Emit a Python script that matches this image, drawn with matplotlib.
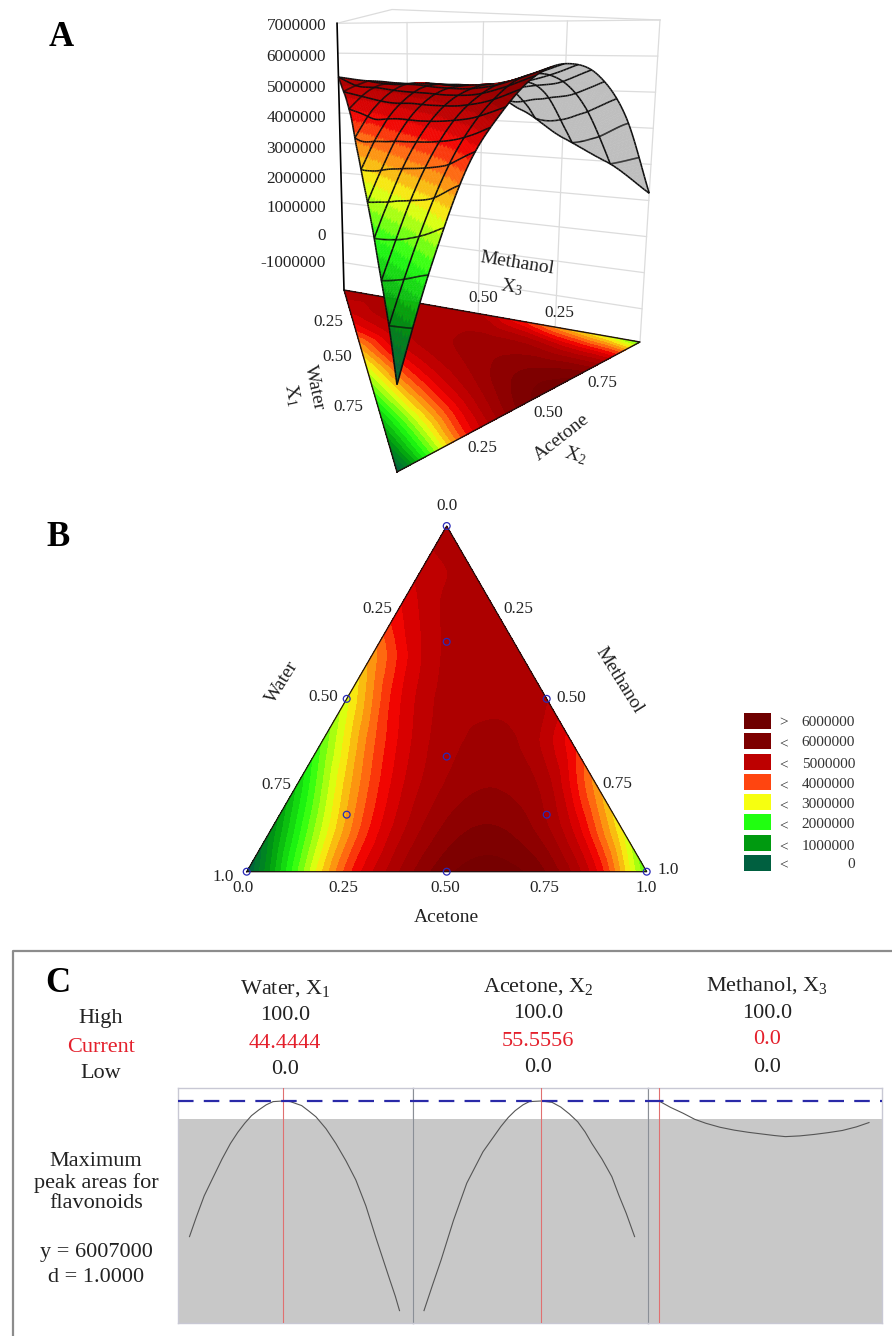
import numpy as np
import matplotlib
matplotlib.use("Agg")
import matplotlib.pyplot as plt
from matplotlib.colors import LinearSegmentedColormap
from matplotlib.collections import PolyCollection, LineCollection
from matplotlib.tri import Triangulation, CubicTriInterpolator, LinearTriInterpolator

plt.rcParams['font.family'] = ['Liberation Serif', 'DejaVu Serif']
plt.rcParams['mathtext.fontset'] = 'custom'
plt.rcParams['mathtext.rm'] = 'Liberation Serif'
plt.rcParams['mathtext.it'] = 'Liberation Serif'

# ---------- data (response in millions) ----------
# lattice rows: top-vertex share t = k/8, going left -> right along the row
row_t0 = [-0.10, 2.20, 4.10, 5.20, 5.93, 6.12, 5.72, 4.50, 2.20]
row_t1 = [0.80, 2.75, 4.30, 5.25, 5.75, 5.62, 4.75, 3.00]
row_t2 = [1.50, 3.35, 4.62, 5.28, 5.48, 5.10, 3.60]
row_t3 = [2.25, 3.90, 4.90, 5.28, 5.22, 4.35]
row_t4 = [2.90, 4.40, 5.11, 5.20, 5.00]
row_t5 = [3.60, 4.75, 5.20, 5.05]
row_t6 = [4.40, 5.05, 5.05]
row_t7 = [4.85, 5.10]
row_t8 = [5.20]
lattice_rows = [row_t0, row_t1, row_t2, row_t3, row_t4, row_t5, row_t6, row_t7, row_t8]

z_ticks = [7000000, 6000000, 5000000, 4000000, 3000000, 2000000, 1000000, 0, -1000000]

design_u = [0.0, 1.0, 0.5, 0.25, 0.75, 0.5, 0.5, 0.5, 0.25, 0.75]
design_t = [0.0, 0.0, 1.0, 0.5, 0.5, 0.0, 0.665, 0.333, 0.165, 0.165]

legend_signs = ['>', '<', '<', '<', '<', '<', '<', '<']
legend_labels = ['6000000', '6000000', '5000000', '4000000', '3000000', '2000000', '1000000', '0']
legend_colors = ['#6e0000', '#7d0000', '#bd0000', '#ff4510', '#f6ff10', '#20ff10', '#009a10', '#006040']

cmap_nodes = [0.0, 1.0, 2.0, 3.0, 4.0, 4.4, 5.0, 5.5, 6.0]
cmap_colors = ['#006040', '#009a10', '#20ff10', '#f6ff10', '#ff5510', '#f00000', '#b40000', '#980000', '#760000']

water_x = [0, 3.3, 7, 11.4, 15.5, 19.5, 23, 26.3, 29.5, 33, 36.5, 39.8, 44.4, 48, 53.4, 57, 60.2, 65, 69.7, 74.5, 79.2, 84, 88.6, 92, 95.4, 98, 100]
water_y = [2.25, 2.80, 3.38, 3.91, 4.40, 4.83, 5.14, 5.39, 5.60, 5.76, 5.90, 5.99, 6.007, 5.99, 5.88, 5.72, 5.57, 5.24, 4.83, 4.35, 3.82, 3.10, 2.25, 1.65, 1.05, 0.60, 0.20]
acetone_x = [0, 4, 8.1, 14, 20.3, 28, 36.5, 40, 43.3, 47, 50, 55.6, 60.8, 64.9, 69, 73, 76.5, 79.7, 84.5, 89.2, 92.5, 96, 100]
acetone_y = [0.20, 0.90, 1.60, 2.70, 3.73, 4.60, 5.30, 5.55, 5.74, 5.90, 5.99, 6.007, 5.97, 5.84, 5.65, 5.43, 5.15, 4.83, 4.40, 3.91, 3.40, 2.90, 2.25]
methanol_x = [0, 5.5, 11.4, 17, 22.3, 29, 35.8, 42.5, 49.4, 55, 60.2, 67, 73.8, 80.5, 87.3, 94, 100]
methanol_y = [6.007, 5.83, 5.67, 5.50, 5.39, 5.28, 5.20, 5.14, 5.09, 5.05, 5.02, 5.04, 5.08, 5.13, 5.19, 5.29, 5.41]
current_vals = [44.4444, 55.5556, 0.0]
goal_y = 6.007
desir_floor = 5.508

# ---------- figure ----------
W, H = 892, 1336
fig = plt.figure(figsize=(W / 100, H / 100), dpi=100, facecolor='white')

def add_px_axes(x0, y0, x1, y1, **kw):
    return fig.add_axes([x0 / W, 1 - y1 / H, (x1 - x0) / W, (y1 - y0) / H], **kw)

over = add_px_axes(0, 0, W, H)
over.set_xlim(0, W); over.set_ylim(H, 0); over.axis('off')

cmap = LinearSegmentedColormap.from_list('rsm', [(v / 6.0, c) for v, c in zip(cmap_nodes, cmap_colors)])
levels = np.arange(-1.0, 6.75, 0.25)
band_colors = [cmap(np.clip((0.5 * (a + b)) / 6.0, 0, 1)) for a, b in zip(levels[:-1], levels[1:])]

# interpolated field over the triangle
pu, pt, pz = [], [], []
for k, row in enumerate(lattice_rows):
    for j, v in enumerate(row):
        pt.append(k / 8); pu.append(k / 16 + j / 8); pz.append(v)
tri8 = Triangulation(pu, pt)
interp = CubicTriInterpolator(tri8, pz, kind='geom')

def field(u, t):
    u, t = np.asarray(u, float), np.asarray(t, float)
    return np.ma.filled(interp(0.5 + (u - 0.5) * 0.99999, 1 / 3 + (t - 1 / 3) * 0.99999), 0.2)

N = 132
idx = {}
R_, T_ = [], []
for k in range(N + 1):
    for j in range(N + 1 - k):
        idx[(j, k)] = len(R_)
        R_.append(j / N); T_.append(k / N)
R_, T_ = np.array(R_), np.array(T_)
L_ = 1 - R_ - T_
tris = []
for k in range(N):
    for j in range(N - k):
        tris.append((idx[(j, k)], idx[(j + 1, k)], idx[(j, k + 1)]))
        if j + k < N - 1:
            tris.append((idx[(j + 1, k)], idx[(j + 1, k + 1)], idx[(j, k + 1)]))
tris = np.array(tris)
U = R_ + T_ / 2
Z = field(U, T_)
mesh_uv = Triangulation(U, T_, tris)

# ---------- panel A: own projection of the mixture prism ----------
Z0 = -1.92
VX = np.array([397.0, 640.0, 344.0])  # L, R, T floor corners
VY = np.array([472.0, 342.0, 290.0])
VK = np.array([48.0, 36.1, 29.9])
VLEAN = np.array([0.0, 2.24, -0.78])
VW = np.array([0.73, 0.83, 1.0])

def project(l, r, t, z):
    l, r, t = np.asarray(l, float), np.asarray(r, float), np.asarray(t, float)
    a, b, c = l * VW[0], r * VW[1], t * VW[2]
    s = a + b + c
    a, b, c = a / s, b / s, c / s
    bx = a * VX[0] + b * VX[1] + c * VX[2]
    by = a * VY[0] + b * VY[1] + c * VY[2]
    kk = a * VK[0] + b * VK[1] + c * VK[2]
    ln = a * VLEAN[0] + b * VLEAN[1] + c * VLEAN[2]
    dz = np.asarray(z, float) - Z0
    return bx + dz * ln, by - dz * kk

wall = '#dcdcdc'
for zv in np.array(z_ticks) / 1e6:
    x, y = project([0, 0], [0, 1], [1, 0], [zv, zv])
    over.plot(x, y, color=wall, lw=0.9, zorder=1)
for rv in [0.25, 0.5, 0.75, 1.0]:
    x, y = project([0, 0], [rv, rv], [1 - rv, 1 - rv], [Z0, 7.0])
    over.plot(x, y, color=wall, lw=0.9, zorder=1)
x0, y0 = project(0, 0, 1, 7.0)
x1, y1 = project(0, 1, 0, 7.0)
over.plot([x0, 392, x1], [y0, 9.5, y1], color=wall, lw=0.9, zorder=1)

# floor contours
fx, fy = project(L_, R_, T_, np.full_like(L_, Z0))
over.tricontourf(Triangulation(fx, fy, tris), Z, levels=levels, colors=band_colors, extend='max', zorder=2)
cx, cy = project([1, 0, 0, 1], [0, 1, 0, 0], [0, 0, 1, 0], [Z0] * 4)
over.plot(cx, cy, color='#201010', lw=1.0, zorder=3)
x, y = project([0, 0], [0, 0], [1, 1], [Z0, 7.0])
over.plot(x, y, color='black', lw=1.2, zorder=3)

# surface
sx, sy = project(L_, R_, T_, Z)
P = np.stack([sx, sy], axis=1)[tris]
def signed(Q):
    return ((Q[:, 1, 0] - Q[:, 0, 0]) * (Q[:, 2, 1] - Q[:, 0, 1]) - (Q[:, 2, 0] - Q[:, 0, 0]) * (Q[:, 1, 1] - Q[:, 0, 1]))
fP = np.stack([fx, fy], axis=1)[tris]
front = np.sign(signed(P)) == np.sign(signed(fP))
Zm = Z[tris].mean(axis=1)
fc = np.array([cmap(np.clip((np.floor(v * 4) / 4 + 0.125) / 6.0, 0, 1)) for v in Zm])
gray = '#bebebe'
over.add_collection(PolyCollection(P[~front], facecolors=gray, edgecolors=gray, linewidths=0.3, zorder=4))
order = np.argsort(-T_[tris].mean(axis=1)[front])
over.add_collection(PolyCollection(P[front][order], facecolors=fc[front][order], edgecolors=fc[front][order], linewidths=0.3, zorder=6))

# facing field so that mesh lines can be split into hidden and visible parts
vf_sum = np.zeros(len(L_))
np.add.at(vf_sum, tris[front].ravel(), 1)
np.add.at(vf_sum, tris[~front].ravel(), -1)
facing = LinearTriInterpolator(mesh_uv, vf_sum)
segs_f, segs_b = [], []

def add_line(us, ts):
    us, ts = np.asarray(us), np.asarray(ts)
    rs = us - ts / 2
    ls = 1 - rs - ts
    zs = field(us, ts)
    xs, ys = project(ls, rs, ts, zs)
    fcs = np.ma.filled(facing(0.5 + (us - 0.5) * 0.9999, 1 / 3 + (ts - 1 / 3) * 0.9999), 1)
    for i in range(len(us) - 1):
        s = [(xs[i], ys[i]), (xs[i + 1], ys[i + 1])]
        (segs_f if fcs[i] + fcs[i + 1] >= 0 else segs_b).append(s)

U_STEPS, T_STEPS = 18, 9
for m in range(1, U_STEPS):                    # vertical lines of the flat plot
    u = m / U_STEPS
    tm = 2 * min(u, 1 - u)
    ts = np.linspace(0, tm, 60)
    add_line(np.full_like(ts, u), ts)
for m in range(1, T_STEPS):                    # horizontal lines of the flat plot
    t = m / T_STEPS
    us = np.linspace(t / 2, 1 - t / 2, 90)
    add_line(us, np.full_like(us, t))
ee = np.linspace(0, 1, 150)
add_line(ee, np.zeros_like(ee))                # L-R edge
add_line(ee / 2, ee)                           # L-T edge
add_line(1 - ee / 2, ee)                       # R-T edge
over.add_collection(LineCollection(segs_b, colors='#101010', linewidths=1.15, zorder=5))
over.add_collection(LineCollection(segs_f, colors='#101010', linewidths=1.15, zorder=7))

# A labels
for v, yy in zip(z_ticks, [26, 57, 88, 118, 149, 179, 208, 236, 263]):
    over.text(326, yy, str(v), ha='right', va='center', fontsize=12.3, color='#222222', zorder=10)
tk = dict(ha='center', va='center', fontsize=12.3, color='#222222', zorder=10)
for s, xx, yy in [('0.25', 328, 322), ('0.50', 337, 357), ('0.75', 348, 407), ('0.50', 483, 298), ('0.25', 559, 313),
                  ('0.75', 602, 383), ('0.50', 548, 413), ('0.25', 482, 448)]:
    over.text(xx, yy, s, **tk)
lb = dict(ha='center', va='center', fontsize=14, color='#222222', zorder=10)
over.text(517, 263, 'Methanol', rotation=-9, **lb)
over.text(512, 287, r'$\mathrm{X_3}$', rotation=-9, **lb)
over.text(314, 388, 'Water', rotation=-78, **lb)
over.text(292, 395, r'$\mathrm{X_1}$', rotation=-78, **lb)
over.text(562, 437, 'Acetone', rotation=38, **lb)
over.text(575, 455, r'$\mathrm{X_2}$', rotation=-15, **lb)

pan = dict(fontsize=25, fontweight='bold', color='black', ha='center', va='center', zorder=10)
over.text(61, 38, 'A', **pan)
over.text(58, 537, 'B', **pan)
over.text(58, 984, 'C', **pan)

# ---------- panel B ----------
axb = add_px_axes(246.7, 526, 646.7, 871.7)
axb.set_xlim(0, 1); axb.set_ylim(0, 1); axb.axis('off'); axb.patch.set_alpha(0)
axb.tricontourf(mesh_uv, Z, levels=levels, colors=band_colors, extend='max')
axb.plot([0, 1, 0.5, 0], [0, 0, 1, 0], color='#201010', lw=0.9, clip_on=False)
axb.scatter(design_u, design_t, s=24, facecolors='none', edgecolors='#2a2ab8', linewidths=0.9, clip_on=False, zorder=5)
for s, xx, yy in [('0.0', 447, 506), ('0.25', 377, 609), ('0.25', 518, 609), ('0.50', 323, 697), ('0.50', 571, 698),
                  ('0.75', 276, 785), ('0.75', 617, 784), ('1.0', 223, 877), ('1.0', 668, 870), ('0.0', 243, 888),
                  ('0.25', 343, 888), ('0.50', 445, 888), ('0.75', 544, 888), ('1.0', 646, 888)]:
    over.text(xx, yy, s, **tk)
over.text(446, 917, 'Acetone', **lb)
over.text(282, 682, 'Water', rotation=58, **lb)
over.text(619, 680, 'Methanol', rotation=-58, **lb)

# legend
axl = add_px_axes(744, 713, 771, 875)
axl.set_xlim(0, 1); axl.set_ylim(7.6, -0.4); axl.axis('off')
axl.barh(range(8), [1] * 8, height=0.8, color=legend_colors)
for i, (sg, lab, yy) in enumerate(zip(legend_signs, legend_labels, [723, 743, 764, 785, 805, 825, 846, 864])):
    over.text(784, yy + (2 if sg == '<' else 0), sg, ha='center', va='center', fontsize=11, color='#333333', zorder=10)
    over.text(855, yy, lab, ha='right', va='center', fontsize=11, color='#333333', zorder=10)

# ---------- panel C ----------
over.plot([13, 13, W], [H, 951, 951], color='#8c8c8c', lw=1.6, zorder=1)
y_top, y_bot = 6.367, -0.143
panes = [(177.6, 412.6, 189.5, 2.1, water_x, water_y, current_vals[0]),
         (412.6, 648.0, 424.0, 2.106, acetone_x, acetone_y, current_vals[1]),
         (648.0, 882.0, 659.0, 2.1, methanol_x, methanol_y, current_vals[2])]
for p0, p1, o, sc, xs, ys, cur in panes:
    ax = add_px_axes(p0, 1088, p1, 1323)
    ax.set_xlim((p0 - o) / sc, (p1 - o) / sc)
    ax.set_ylim(y_bot, y_top)
    ax.set_xticks([]); ax.set_yticks([])
    ax.axhspan(y_bot, desir_floor, color='#c8c8c8', lw=0, zorder=1)
    ax.plot(xs, ys, color='#555555', lw=0.8, zorder=3)
    ax.axvline(cur, color='#e07070', lw=0.8, zorder=3)
    ax.axhline(goal_y, color='#2a2aa8', lw=1.6, dashes=(7, 4.6), zorder=4)
    for sp in ax.spines.values():
        sp.set_color('#c8c8d4'); sp.set_linewidth(1.0)
    ax.spines['left'].set_color('#8a8f96' if p0 > 200 else '#c8c8d4')
    ax.spines['left'].set_linewidth(0.8 if p0 > 200 else 1.0)

cfg = dict(ha='center', va='center', fontsize=16, color='#222222', zorder=10)
red = '#e4202c'
for s, xx, yy in [('Water, ' + r'$\mathrm{X_1}$', 285, 989), ('Acetone, ' + r'$\mathrm{X_2}$', 538, 987),
                  ('Methanol, ' + r'$\mathrm{X_3}$', 767, 986), ('100.0', 285, 1016), ('100.0', 538, 1014),
                  ('100.0', 767, 1013), ('0.0', 285, 1070), ('0.0', 538, 1068), ('0.0', 767, 1067),
                  ('High', 101, 1019), ('Low', 101, 1074), ('Maximum', 96, 1162), ('peak areas for', 96, 1183),
                  ('flavonoids', 96, 1203), ('y = 6007000', 96, 1252), ('d = 1.0000', 96, 1278)]:
    over.text(xx, yy, s, **cfg)
cur_txt = dict(cfg); cur_txt['color'] = red
over.text(101, 1047, 'Current', **cur_txt)
for v, xx, yy in zip(current_vals, [285, 538, 767], [1043, 1041, 1040]):
    over.text(xx, yy, ('%.4f' % v) if v else '0.0', **cur_txt)

over.set_zorder(10); over.patch.set_alpha(0)
fig.savefig('out.png', dpi=100)
